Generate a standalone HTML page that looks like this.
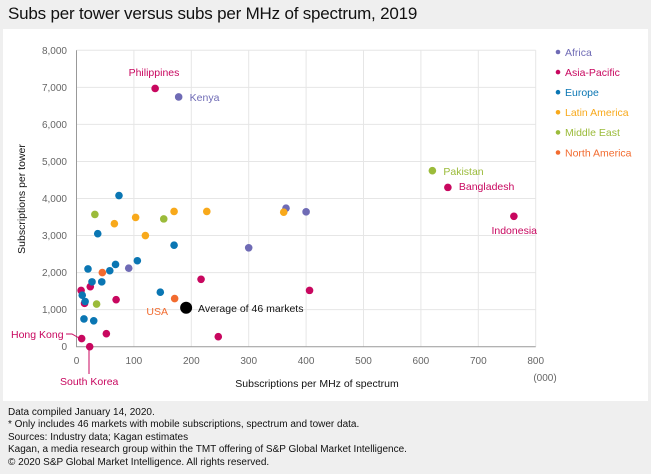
<!DOCTYPE html>
<html><head><meta charset="utf-8"><style>
body{margin:0;width:651px;height:474px;background:#efefef;font-family:"Liberation Sans",sans-serif;overflow:hidden;position:relative}
.title{position:absolute;left:8px;top:4px;font-size:17px;color:#111;letter-spacing:-0.2px}
.panel{position:absolute;left:3px;top:29px;width:645px;height:372px;background:#fff}
.foot{position:absolute;left:8px;top:407px;font-size:10px;line-height:12.4px;color:#111}
svg{position:absolute;left:0;top:0}
</style></head><body>
<div class="title">Subs per tower versus subs per MHz of spectrum, 2019</div>
<div class="panel"></div>
<svg id="chart" width="651" height="474" font-family="Liberation Sans, sans-serif"></svg>
<div class="foot">Data compiled January 14, 2020.<br>* Only includes 46 markets with mobile subscriptions, spectrum and tower data.<br>Sources: Industry data; Kagan estimates<br>Kagan, a media research group within the TMT offering of S&amp;P Global Market Intelligence.<br>© 2020 S&amp;P Global Market Intelligence. All rights reserved.</div>
<script>
const regions=["Africa","Asia-Pacific","Europe","Latin America","Middle East","North America"];
const colors=["#6f6bb5","#c8075f","#0a76b3","#f8a91b","#9bbb3a","#f26b2f"];
const africaX=[178,300,365,400,91];
const africaY=[6740,2670,3740,3640,2120];
const asiaX=[137,647,762,406,217,247,52,69,8,24,14,9,23];
const asiaY=[6970,4300,3520,1520,1820,270,350,1270,1520,1620,1170,220,0];
const europeX=[74,37,170,106,68,20,58,27,44,10,15,146,13,30];
const europeY=[4080,3050,2740,2320,2220,2100,2050,1750,1750,1390,1220,1470,750,700];
const latamX=[170,227,103,66,120,361];
const latamY=[3650,3650,3490,3320,3000,3630];
const meX=[620,32,152,35];
const meY=[4750,3570,3450,1150];
const naX=[171,45];
const naY=[1300,2000];
const avgX=191, avgY=1050;
const xTicks=[0,100,200,300,400,500,600,700,800];
const yTicks=[0,1000,2000,3000,4000,5000,6000,7000,8000];
const xs=v=>76.5+v*0.574;
const ys=v=>346.7-v*0.03705;
const svg=document.getElementById('chart');
const NS='http://www.w3.org/2000/svg';
function mk(t,a){const e=document.createElementNS(NS,t);for(const k in a)e.setAttribute(k,a[k]);svg.appendChild(e);return e;}
xTicks.forEach(v=>{
 if(v>0){const l=mk('line',{x1:xs(v),x2:xs(v),y1:ys(8000),y2:ys(0),stroke:'#e6e6e6'});
 
 }
 const t=mk('text',{x:xs(v),y:364,'text-anchor':'middle','font-size':10,fill:'#666'});t.textContent=v;
 
 
});
yTicks.forEach(v=>{
 if(v>0){const l=mk('line',{x1:xs(0),x2:xs(800),y1:ys(v),y2:ys(v),stroke:'#e6e6e6'});
 
 }
 const t=mk('text',{x:67,y:ys(v)+3.5,'text-anchor':'end','font-size':10,fill:'#666'});t.textContent=v.toLocaleString('en-US');
 
 
});
const ax=mk('path',{d:`M${xs(0)},${ys(8000)}V${ys(0)}H${xs(800)}`,stroke:'#999',fill:'none'});


const series=[[africaX,africaY],[asiaX,asiaY],[europeX,europeY],[latamX,latamY],[meX,meY],[naX,naY]];
series.forEach((s,i)=>{s[0].forEach((x,j)=>{
 const c=mk('circle',{cx:xs(x),cy:ys(s[1][j]),r:3.8,fill:colors[i]});
 
 
});});
const av=mk('circle',{cx:xs(avgX),cy:ys(avgY),r:6,fill:'#000'});


function lab(txt,x,y,col,anchor,name){const t=mk('text',{x:x,y:y,'font-size':10.5,fill:col,'text-anchor':anchor||'start'});t.textContent=txt;
 
 }
lab('Philippines',154,76,colors[1],'middle','label-philippines');
lab('Kenya',xs(178)+11,101,colors[0],'start','label-kenya');
lab('Pakistan',xs(620)+11,175,colors[4],'start','label-pakistan');
lab('Bangladesh',xs(647)+11,190,colors[1],'start','label-bangladesh');
lab('Indonesia',537,234,colors[1],'end','label-indonesia');
lab('USA',168,315,colors[5],'end','label-usa');
lab('Average of 46 markets',198,312,'#111','start','label-average');
lab('Hong Kong',11,338,colors[1],'start','label-hong-kong');
lab('South Korea',60,385,colors[1],'start','label-south-korea');
const l1=mk('path',{d:`M66,334 L72,334 L79,338`,stroke:colors[1],fill:'none'});


const l2=mk('line',{x1:89,y1:348,x2:89,y2:374,stroke:colors[1]});


const yt=mk('text',{x:0,y:0,'font-size':10.5,fill:'#111','text-anchor':'middle',transform:'translate(25,199) rotate(-90)'});yt.textContent='Subscriptions per tower';


const xt=mk('text',{x:317,y:387,'font-size':10.5,fill:'#111','text-anchor':'middle'});xt.textContent='Subscriptions per MHz of spectrum';


const un=mk('text',{x:545,y:381,'font-size':10,fill:'#666','text-anchor':'middle'});un.textContent='(000)';


regions.forEach((r,i)=>{const y=52+i*20.1;
 const d=mk('circle',{cx:558,cy:y,r:2.3,fill:colors[i]});
 
 
 const t=mk('text',{x:565,y:y+3.8,'font-size':10.5,fill:colors[i]});t.textContent=r;
 
 
});
</script>
</body></html>
